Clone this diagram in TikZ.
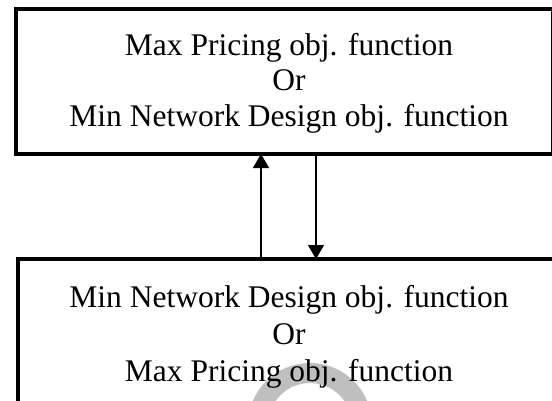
\documentclass[tikz,border=0pt]{standalone}
\usepackage{fontspec}
\setmainfont{Liberation Serif}
\usetikzlibrary{arrows.meta}
\begin{document}
\begin{tikzpicture}[x=1pt,y=-1pt,
  box/.style={draw=black,line width=4pt,minimum width=#1,inner sep=0pt,outer sep=0pt,anchor=north west},
  lbl/.style={anchor=base,inner sep=0pt,font=\fontsize{31.5}{36}\selectfont},
  link/.style={line width=1.4pt,-{Triangle[width=16pt,length=14pt]}}]
\useasboundingbox (0,0) rectangle (552,400);
\begin{scope}
\clip (0,0) rectangle (552,400);
% faint watermark arc
\draw[black!25,line width=20pt] (258,425) arc[start angle=180,end angle=0,radius=52pt];
% boxes
\node[box=537pt,minimum height=145pt] (top) at (16,9) {};
\node[box=545pt,minimum height=170pt] (bot) at (17.5,259) {};
% texts
\node[lbl] (t1) at (289,55) {Max Pricing obj. function};
\node[lbl] (t2) at (289,90.5) {Or};
\node[lbl] (t3) at (289,126) {Min Network Design obj. function};
\node[lbl] (b1) at (289,307) {Min Network Design obj. function};
\node[lbl] (b2) at (289,344) {Or};
\node[lbl] (b3) at (289,381) {Max Pricing obj. function};
% connectors
\coordinate (up) at (261,200);
\coordinate (dn) at (316,200);
\draw[link] (bot.north -| up) -- (top.south -| up);
\draw[link] (top.south -| dn) -- (bot.north -| dn);
\end{scope}
\end{tikzpicture}
\end{document}
